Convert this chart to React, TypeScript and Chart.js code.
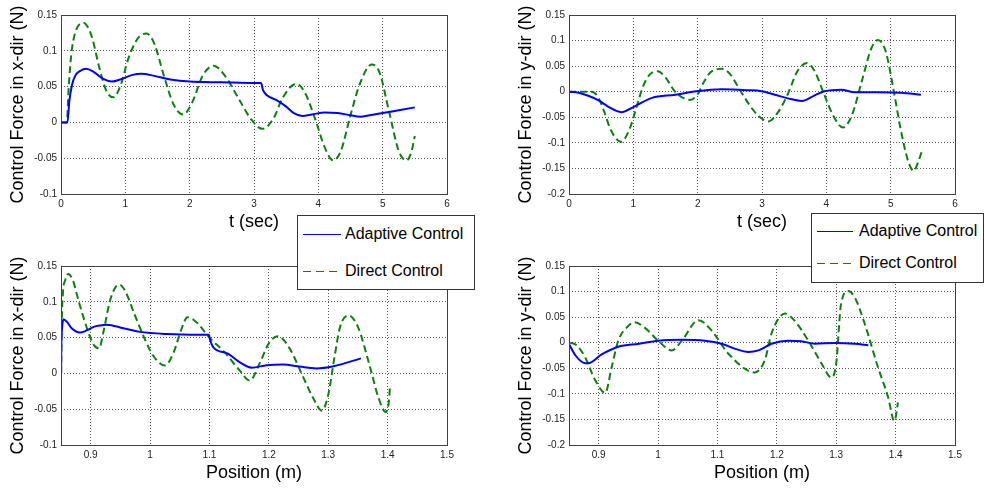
import React, { useEffect, useRef } from 'react';
import { Chart, registerables } from 'chart.js';

Chart.register(...registerables);

// ---------- labels ----------
const seriesLabels = ['Adaptive Control', 'Direct Control'];
const timeTitle = 't (sec)';
const positionTitle = 'Position (m)';
const forceXTitle = 'Control Force in x-dir (N)';
const forceYTitle = 'Control Force in y-dir (N)';

// ---------- tick values ----------
const timeTicks = [0, 1, 2, 3, 4, 5, 6];
const positionTicks = [0.9, 1, 1.1, 1.2, 1.3, 1.4, 1.5];
const forceXTicks = [-0.1, -0.05, 0, 0.05, 0.1, 0.15];
const forceYTicks = [-0.2, -0.15, -0.1, -0.05, 0, 0.05, 0.1, 0.15];

// ---------- top-left: x-dir force vs time ----------
const tlAdaptiveT = [0, 0.1, 0.13, 0.17, 0.22, 0.3, 0.39, 0.5, 0.65, 0.79, 0.95, 1.1, 1.25, 1.45, 1.7, 2.0, 2.5, 3.0, 3.11, 3.14, 3.2, 3.35, 3.5, 3.62, 3.75, 3.9, 4.1, 4.3, 4.5, 4.65, 4.8, 5.0, 5.25, 5.5];
const tlAdaptiveF = [0, 0, 0.03, 0.052, 0.065, 0.072, 0.075, 0.071, 0.061, 0.057, 0.061, 0.066, 0.068, 0.065, 0.06, 0.057, 0.056, 0.055, 0.055, 0.045, 0.038, 0.031, 0.022, 0.013, 0.009, 0.011, 0.014, 0.013, 0.01, 0.008, 0.01, 0.013, 0.017, 0.021];
const tlDirectT = [0, 0.09, 0.12, 0.16, 0.22, 0.35, 0.47, 0.6, 0.7, 0.81, 0.92, 1.05, 1.2, 1.33, 1.45, 1.6, 1.75, 1.9, 2.05, 2.2, 2.37, 2.55, 2.75, 2.95, 3.13, 3.3, 3.45, 3.66, 3.8, 3.95, 4.1, 4.23, 4.35, 4.5, 4.65, 4.83, 4.95, 5.1, 5.25, 5.37, 5.45, 5.5];
const tlDirectF = [0, 0, 0.05, 0.095, 0.125, 0.139, 0.122, 0.075, 0.045, 0.035, 0.05, 0.09, 0.118, 0.124, 0.11, 0.065, 0.025, 0.011, 0.03, 0.065, 0.079, 0.065, 0.035, 0.005, -0.009, 0.005, 0.035, 0.054, 0.04, 0.005, -0.035, -0.053, -0.04, 0.01, 0.055, 0.081, 0.07, 0.015, -0.04, -0.053, -0.04, -0.019];

// ---------- top-right: y-dir force vs time ----------
const trAdaptiveT = [0, 0.15, 0.3, 0.46, 0.62, 0.81, 1.03, 1.29, 1.65, 1.98, 2.37, 2.78, 2.99, 3.2, 3.4, 3.62, 3.82, 3.97, 4.23, 4.44, 4.8, 5.16, 5.47];
const trAdaptiveF = [0, -0.002, -0.008, -0.017, -0.03, -0.04, -0.028, -0.012, -0.006, 0.001, 0.005, 0.003, 0.001, -0.006, -0.013, -0.018, -0.007, 0.001, 0.004, -0.001, -0.001, -0.002, -0.006];
const trDirectT = [0, 0.2, 0.35, 0.45, 0.55, 0.65, 0.81, 0.95, 1.05, 1.15, 1.25, 1.38, 1.5, 1.65, 1.88, 2.0, 2.1, 2.2, 2.37, 2.5, 2.65, 2.8, 2.95, 3.1, 3.25, 3.4, 3.55, 3.7, 3.82, 3.95, 4.1, 4.26, 4.4, 4.55, 4.7, 4.8, 4.92, 5.05, 5.15, 5.27, 5.36, 5.42, 5.48];
const trDirectF = [0, 0, 0, -0.01, -0.04, -0.075, -0.098, -0.07, -0.03, 0.01, 0.033, 0.04, 0.028, 0, -0.016, -0.005, 0.02, 0.038, 0.045, 0.035, 0.005, -0.025, -0.048, -0.058, -0.04, -0.005, 0.04, 0.056, 0.04, 0, -0.045, -0.07, -0.045, 0.02, 0.085, 0.101, 0.08, 0, -0.07, -0.135, -0.155, -0.14, -0.118];

// ---------- bottom-left: x-dir force vs position ----------
const blAdaptiveP = [0.8502, 0.8505, 0.852, 0.854, 0.86, 0.868, 0.882, 0.893, 0.905, 0.916, 0.927, 0.955, 0.983, 1.028, 1.084, 1.099, 1.101, 1.107, 1.13, 1.152, 1.171, 1.196, 1.224, 1.252, 1.28, 1.309, 1.355];
const blAdaptiveF = [0, 0.035, 0.065, 0.0755, 0.072, 0.063, 0.057, 0.06, 0.065, 0.067, 0.068, 0.063, 0.058, 0.055, 0.054, 0.054, 0.047, 0.036, 0.028, 0.015, 0.008, 0.0115, 0.0125, 0.0095, 0.007, 0.01, 0.021];
const blDirectP = [0.8502, 0.851, 0.853, 0.857, 0.862, 0.87, 0.88, 0.895, 0.905, 0.914, 0.922, 0.932, 0.94, 0.948, 0.958, 0.975, 0.99, 1.005, 1.025, 1.04, 1.052, 1.063, 1.08, 1.1, 1.125, 1.15, 1.168, 1.185, 1.2, 1.215, 1.235, 1.255, 1.275, 1.289, 1.3, 1.31, 1.32, 1.334, 1.35, 1.37, 1.385, 1.397, 1.402, 1.404];
const blDirectF = [0, 0.06, 0.11, 0.13, 0.139, 0.13, 0.1, 0.06, 0.04, 0.035, 0.06, 0.1, 0.118, 0.124, 0.115, 0.08, 0.05, 0.025, 0.011, 0.03, 0.06, 0.0785, 0.07, 0.05, 0.03, 0.005, -0.01, 0.015, 0.042, 0.052, 0.035, 0, -0.035, -0.052, -0.03, 0.02, 0.065, 0.081, 0.065, 0.01, -0.035, -0.054, -0.04, -0.019];

// ---------- bottom-right: y-dir force vs position ----------
const brAdaptiveP = [0.8502, 0.861, 0.877, 0.883, 0.905, 0.933, 0.968, 1.0, 1.04, 1.079, 1.107, 1.13, 1.152, 1.169, 1.191, 1.219, 1.241, 1.264, 1.297, 1.331, 1.354];
const brAdaptiveF = [-0.003, -0.025, -0.04, -0.04, -0.023, -0.008, -0.002, 0.004, 0.006, 0.004, -0.002, -0.012, -0.018, -0.015, -0.002, 0.004, 0.003, -0.002, -0.0005, -0.002, -0.005];
const brDirectP = [0.852, 0.863, 0.877, 0.894, 0.911, 0.922, 0.933, 0.95, 0.96, 0.978, 1.0, 1.023, 1.04, 1.068, 1.09, 1.118, 1.163, 1.18, 1.191, 1.214, 1.23, 1.253, 1.275, 1.292, 1.3, 1.308, 1.32, 1.331, 1.348, 1.37, 1.387, 1.398, 1.404];
const brDirectF = [0, -0.005, -0.028, -0.073, -0.098, -0.047, 0.004, 0.033, 0.04, 0.029, 0.004, -0.015, 0.004, 0.044, 0.024, -0.021, -0.058, -0.033, 0.018, 0.057, 0.043, 0.004, -0.04, -0.068, -0.04, 0.075, 0.101, 0.089, 0.037, -0.047, -0.105, -0.153, -0.117];

// ---------- styles ----------
const BLUE = '#0000ff';
const GREEN = '#0c800c';
const FONT = "'Liberation Sans', Arial, Helvetica, sans-serif";
const CANVAS_W = 492;
const CANVAS_H = 244;

const framePlugin = {
  id: 'matlabFrame',
  afterDraw(chart: any) {
    const { ctx, chartArea: a } = chart;
    ctx.save();
    ctx.strokeStyle = '#404040';
    ctx.lineWidth = 1;
    ctx.setLineDash([]);
    const l = Math.round(a.left) + 0.5;
    const t = Math.round(a.top) + 0.5;
    const r = Math.round(a.right) + 0.5;
    const b = Math.round(a.bottom) + 0.5;
    ctx.strokeRect(l, t, r - l, b - t);
    ctx.restore();
  },
};

type PanelProps = {
  left: number;
  top: number;
  ax: number[];
  ay: number[];
  dx: number[];
  dy: number[];
  xMin: number;
  xMax: number;
  xTicks: number[];
  yMin: number;
  yMax: number;
  yTicks: number[];
  xTitle: string;
  yTitle: string;
};

function Panel(p: PanelProps) {
  const ref = useRef<HTMLCanvasElement>(null);
  useEffect(() => {
    const toPts = (xs: number[], ys: number[]) => xs.map((x, i) => ({ x, y: ys[i] }));
    const chart = new Chart(ref.current as HTMLCanvasElement, {
      type: 'line',
      data: {
        datasets: [
          {
            label: seriesLabels[0],
            data: toPts(p.ax, p.ay),
            borderColor: BLUE,
            backgroundColor: BLUE,
            borderWidth: 2,
            pointRadius: 0,
            fill: false,
            cubicInterpolationMode: 'monotone',
          },
          {
            label: seriesLabels[1],
            data: toPts(p.dx, p.dy),
            borderColor: GREEN,
            backgroundColor: GREEN,
            borderWidth: 2,
            borderDash: [7, 4],
            pointRadius: 0,
            fill: false,
            cubicInterpolationMode: 'monotone',
          },
        ],
      } as any,
      options: {
        responsive: false,
        animation: false,
        events: [],
        layout: { padding: { left: 0, right: CANVAS_W - 447, top: 15, bottom: 0 } },
        plugins: { legend: { display: false }, tooltip: { enabled: false } },
        scales: {
          x: {
            type: 'linear',
            min: p.xMin,
            max: p.xMax,
            afterBuildTicks: (s: any) => {
              s.ticks = p.xTicks.map((v) => ({ value: v }));
            },
            afterFit: (s: any) => {
              s.height = 50;
            },
            grid: { color: '#555', lineWidth: 1, drawTicks: false },
            border: { display: false, dash: [1, 2] },
            ticks: {
              padding: 4,
              color: '#222',
              autoSkip: false,
              maxRotation: 0,
              font: { family: FONT, size: 10 },
              callback: (v: any) => String(v),
            },
            title: {
              display: true,
              text: p.xTitle,
              color: '#000',
              font: { family: FONT, size: 18 },
              padding: { top: 0, bottom: 11 },
            },
          },
          y: {
            type: 'linear',
            min: p.yMin,
            max: p.yMax,
            afterBuildTicks: (s: any) => {
              s.ticks = p.yTicks.map((v) => ({ value: v }));
            },
            afterFit: (s: any) => {
              s.width = 61;
            },
            grid: { color: '#555', lineWidth: 1, drawTicks: false },
            border: { display: false, dash: [1, 2] },
            ticks: {
              padding: 4,
              color: '#222',
              autoSkip: false,
              font: { family: FONT, size: 10 },
              callback: (v: any) => String(v),
            },
            title: {
              display: true,
              text: p.yTitle,
              color: '#000',
              font: { family: FONT, size: 18 },
              padding: { top: 7.7, bottom: 0 },
            },
          },
        },
      } as any,
      plugins: [framePlugin],
    });
    return () => chart.destroy();
  }, []);
  return (
    <canvas
      ref={ref}
      width={CANVAS_W}
      height={CANVAS_H}
      style={{ position: 'absolute', left: p.left, top: p.top, width: CANVAS_W, height: CANVAS_H }}
    />
  );
}

type LegendProps = {
  left: number;
  top: number;
  width: number;
  height: number;
  row1: number;
  row2: number;
  lineLen: number;
};

function LegendBox(l: LegendProps) {
  const text: React.CSSProperties = {
    position: 'absolute',
    left: 47,
    fontFamily: FONT,
    fontSize: 16,
    lineHeight: '18px',
    color: '#000',
    whiteSpace: 'nowrap',
  };
  const swatch: React.CSSProperties = {
    position: 'absolute',
    left: 5,
    width: l.lineLen,
    height: 1,
  };
  return (
    <div
      style={{
        position: 'absolute',
        left: l.left,
        top: l.top,
        width: l.width,
        height: l.height,
        boxSizing: 'border-box',
        border: '1px solid #333',
        background: '#fff',
        zIndex: 5,
      }}
    >
      <div style={{ ...swatch, top: l.row1 - 1, background: BLUE }} />
      <div
        style={{
          ...swatch,
          top: l.row2 - 1,
          backgroundImage: `repeating-linear-gradient(to right, ${GREEN} 0px, ${GREEN} 8px, transparent 8px, transparent 13px)`,
        }}
      />
      <span style={{ ...text, top: l.row1 - 10 }}>{seriesLabels[0]}</span>
      <span style={{ ...text, top: l.row2 - 10 }}>{seriesLabels[1]}</span>
    </div>
  );
}

export default function App() {
  return (
    <div
      style={{
        position: 'fixed',
        left: 0,
        top: 0,
        width: 985,
        height: 488,
        overflow: 'hidden',
        background: '#fff',
      }}
    >
      <Panel
        left={0}
        top={0}
        ax={tlAdaptiveT}
        ay={tlAdaptiveF}
        dx={tlDirectT}
        dy={tlDirectF}
        xMin={0}
        xMax={6}
        xTicks={timeTicks}
        yMin={-0.1}
        yMax={0.15}
        yTicks={forceXTicks}
        xTitle={timeTitle}
        yTitle={forceXTitle}
      />
      <Panel
        left={508}
        top={0}
        ax={trAdaptiveT}
        ay={trAdaptiveF}
        dx={trDirectT}
        dy={trDirectF}
        xMin={0}
        xMax={6}
        xTicks={timeTicks}
        yMin={-0.2}
        yMax={0.15}
        yTicks={forceYTicks}
        xTitle={timeTitle}
        yTitle={forceYTitle}
      />
      <Panel
        left={0}
        top={251}
        ax={blAdaptiveP}
        ay={blAdaptiveF}
        dx={blDirectP}
        dy={blDirectF}
        xMin={0.85}
        xMax={1.5}
        xTicks={positionTicks}
        yMin={-0.1}
        yMax={0.15}
        yTicks={forceXTicks}
        xTitle={positionTitle}
        yTitle={forceXTitle}
      />
      <Panel
        left={508}
        top={251}
        ax={brAdaptiveP}
        ay={brAdaptiveF}
        dx={brDirectP}
        dy={brDirectF}
        xMin={0.85}
        xMax={1.5}
        xTicks={positionTicks}
        yMin={-0.2}
        yMax={0.15}
        yTicks={forceYTicks}
        xTitle={positionTitle}
        yTitle={forceYTitle}
      />
      <LegendBox left={297} top={215} width={178} height={75} row1={19} row2={56} lineLen={38} />
      <LegendBox left={811} top={213} width={173} height={70} row1={18} row2={50} lineLen={36} />
    </div>
  );
}
